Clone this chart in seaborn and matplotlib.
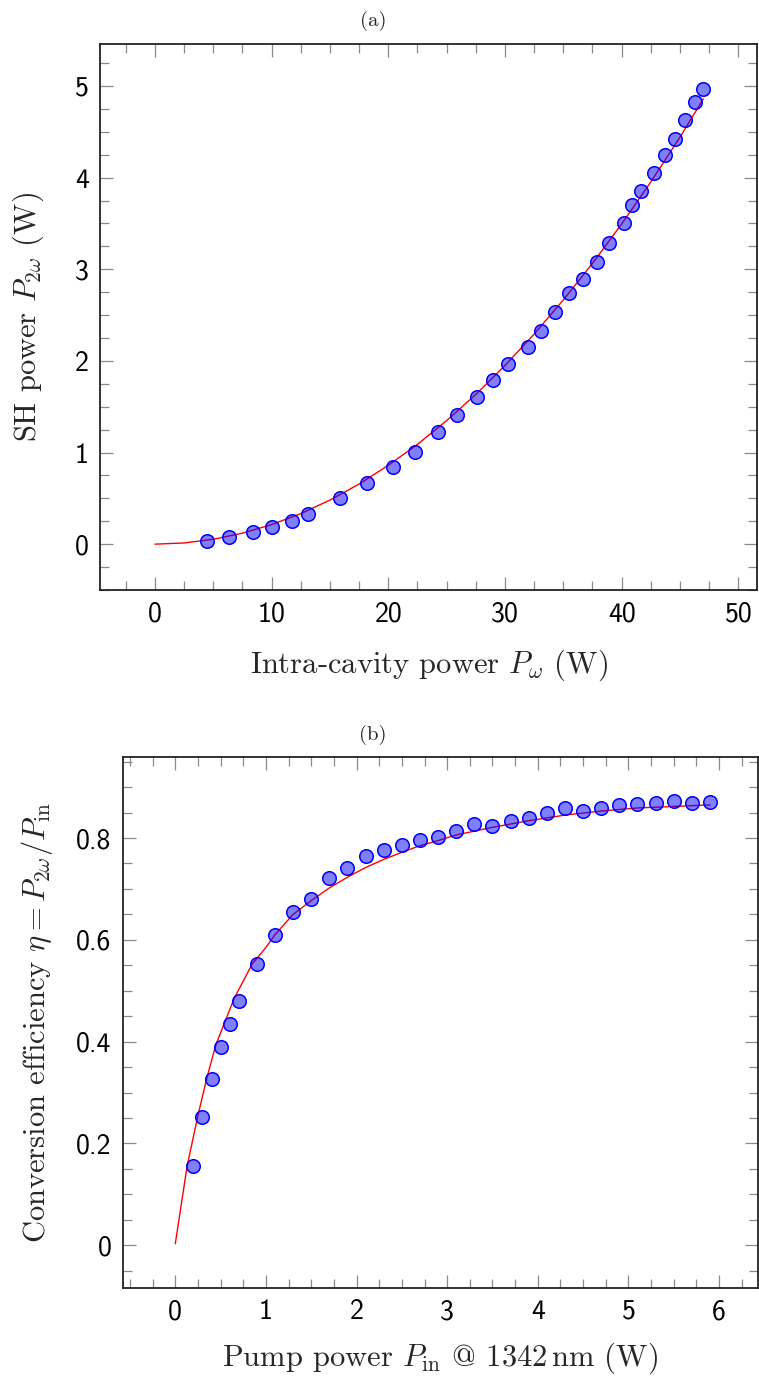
import pandas as pd
import matplotlib
matplotlib.use("Agg")
import matplotlib.pyplot as plt
import matplotlib.ticker as mticker
import seaborn as sns

# (a) SH power vs intra-cavity power
p_omega = [4.50, 6.38, 8.44, 10.07, 11.73, 13.1, 15.85, 18.2, 20.4, 22.3, 24.3,
           25.9, 27.6, 29.0, 30.3, 31.96, 33.1, 34.3, 35.5, 36.7, 37.9, 38.9,
           40.2, 40.9, 41.7, 42.8, 43.7, 44.6, 45.4, 46.3, 47.0]
p_sh = [0.03, 0.077, 0.128, 0.19, 0.255, 0.33, 0.50, 0.667, 0.846, 1.01, 1.22,
        1.41, 1.61, 1.79, 1.97, 2.155, 2.33, 2.53, 2.74, 2.89, 3.085, 3.29,
        3.50, 3.70, 3.855, 4.05, 4.25, 4.42, 4.63, 4.825, 4.97]
# fitted curve
fit_a_x = [0, 2.5, 5, 7.5, 10, 12.5, 15, 17.5, 20, 22.5, 25, 27.5, 30, 32.5,
           35, 37.5, 40, 42.5, 45, 47]
fit_a_y = [0, 0.013, 0.053, 0.12, 0.213, 0.333, 0.481, 0.656, 0.86, 1.089,
           1.348, 1.634, 1.95, 2.293, 2.665, 3.065, 3.495, 3.954, 4.443, 4.86]

# (b) conversion efficiency vs pump power
p_in = [0.2, 0.3, 0.4, 0.5, 0.6, 0.7, 0.9, 1.1, 1.3, 1.5, 1.7, 1.9, 2.1, 2.3,
        2.5, 2.7, 2.9, 3.1, 3.3, 3.5, 3.7, 3.9, 4.1, 4.3, 4.5, 4.7, 4.9, 5.1,
        5.3, 5.5, 5.7, 5.9]
eta = [0.155, 0.252, 0.326, 0.39, 0.435, 0.479, 0.553, 0.610, 0.654, 0.680,
       0.721, 0.742, 0.765, 0.777, 0.786, 0.797, 0.802, 0.814, 0.828, 0.823,
       0.833, 0.840, 0.849, 0.858, 0.854, 0.859, 0.865, 0.866, 0.869, 0.873,
       0.868, 0.871]
fit_b_x = [0, 0.13, 0.25, 0.35, 0.45, 0.55, 0.65, 0.85, 1.0, 1.1, 1.3, 1.5,
           1.7, 1.9, 2.1, 2.3, 2.5, 2.7, 2.9, 3.1, 3.5, 3.9, 4.3, 4.7, 5.1,
           5.5, 5.9]
fit_b_y = [0.003, 0.155, 0.255, 0.33, 0.395, 0.44, 0.485, 0.553, 0.585, 0.61,
           0.65, 0.677, 0.702, 0.723, 0.742, 0.758, 0.772, 0.785, 0.795, 0.806,
           0.821, 0.834, 0.845, 0.853, 0.859, 0.862, 0.865]

sns.set_style("ticks")
plt.rcParams["font.family"] = ["cmr10", "DejaVu Serif"]
plt.rcParams["mathtext.fontset"] = "cm"
plt.rcParams["axes.unicode_minus"] = False
plt.rcParams["axes.formatter.use_mathtext"] = True

fig = plt.figure(figsize=(7.59, 13.81), dpi=100)
ax1 = fig.add_axes([0.1318, 0.5728, 0.8656, 0.3954])
ax2 = fig.add_axes([0.1617, 0.0673, 0.8370, 0.3845])

df_a = pd.DataFrame({"x": p_omega, "y": p_sh})
fa = pd.DataFrame({"x": fit_a_x, "y": fit_a_y})
df_b = pd.DataFrame({"x": p_in, "y": eta})
fb = pd.DataFrame({"x": fit_b_x, "y": fit_b_y})

for ax, d, f in [(ax1, df_a, fa), (ax2, df_b, fb)]:
    sns.lineplot(data=f, x="x", y="y", ax=ax, color="red", lw=1.0,
                 sort=False, estimator=None)
    sns.scatterplot(data=d, x="x", y="y", ax=ax, s=95,
                    facecolor=(0, 0, 1, 0.5), edgecolor="blue", linewidth=1.1,
                    zorder=3)

def style(ax, xmaj, xmin_, ymaj, ymin_):
    ax.xaxis.set_major_locator(mticker.MultipleLocator(xmaj))
    ax.xaxis.set_minor_locator(mticker.MultipleLocator(xmin_))
    ax.yaxis.set_major_locator(mticker.MultipleLocator(ymaj))
    ax.yaxis.set_minor_locator(mticker.MultipleLocator(ymin_))
    fmt = mticker.FuncFormatter(lambda v, p: f"{v:g}" if abs(v) > 1e-9 else "0")
    ax.xaxis.set_major_formatter(fmt)
    ax.yaxis.set_major_formatter(fmt)
    ax.tick_params(which="both", direction="in", top=True, right=True,
                   color="#8a8a8a", width=0.9)
    ax.tick_params(which="major", length=9.5, pad=8, labelsize=20,
                   labelfontfamily="cmss10", labelcolor="black")
    ax.tick_params(which="minor", length=6.5)
    for s in ax.spines.values():
        s.set_linewidth(1.3)
        s.set_color("#222222")

style(ax1, 10, 2.5, 1, 0.25)
ax1.set_xlim(-4.7, 51.6)
ax1.set_ylim(-0.5, 5.46)
ax1.set_xlabel(r"Intra-cavity power $P_\omega$ (W)", fontsize=22)
ax1.set_ylabel(r"SH power $P_{2\omega}$ (W)", fontsize=22)
ax1.xaxis.set_label_coords(0.5, -0.106)
ax1.yaxis.set_label_coords(-0.082, 0.5)

style(ax2, 1, 0.25, 0.2, 0.05)
ax2.set_xlim(-0.58, 6.43)
ax2.set_ylim(-0.084, 0.959)
ax2.set_xlabel(r"Pump power $P_\mathrm{in}$ @ $1342\,\mathrm{nm}$ (W)", fontsize=22)
ax2.set_ylabel(r"Conversion efficiency $\eta = P_{2\omega}/P_\mathrm{in}$", fontsize=22)
ax2.xaxis.set_label_coords(0.5, -0.098)
ax2.yaxis.set_label_coords(-0.106, 0.5)

fig.text(373 / 759, 1 - 21 / 1381, "(a)", fontsize=15, ha="center", va="center")
fig.text(373 / 759, 1 - 735 / 1381, "(b)", fontsize=15, ha="center", va="center")

fig.savefig("out.png", dpi=100)
